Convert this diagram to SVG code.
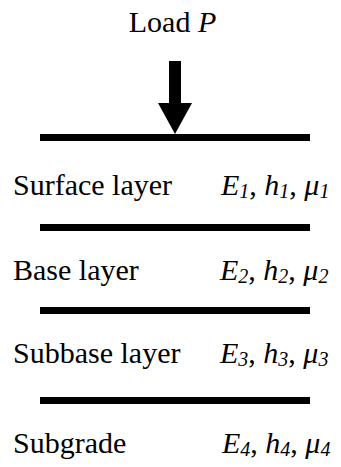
<svg xmlns="http://www.w3.org/2000/svg" width="341" height="467" viewBox="0 0 341 467">
<style>
text{font-family:'Times New Roman','Liberation Serif','DejaVu Serif',serif;font-size:30px;fill:#000}
.i{font-style:italic}
.s{font-style:italic;font-size:20px}
.layer{stroke:#000;stroke-width:7;fill:none}
</style>
<rect width="341" height="467" fill="#fff"/>
<g id="load">
<text x="172.5" y="32" text-anchor="middle">Load <tspan class="i">P</tspan></text>
<rect x="169" y="61" width="12" height="43" fill="#000"/>
<polygon points="158,103 192,103 175,134" fill="#000"/>
</g>
<g id="connectors">
<line class="layer" x1="40" y1="137.5" x2="310" y2="137.5"/>
<line class="layer" x1="40" y1="227.5" x2="310" y2="227.5"/>
<line class="layer" x1="40" y1="310.5" x2="310" y2="310.5"/>
<line class="layer" x1="40" y1="400.5" x2="310" y2="400.5"/>
</g>
<g id="surface">
<text x="13" y="195">Surface layer</text>
<text x="221" y="195"><tspan class="i">E</tspan><tspan class="s" dy="3">1</tspan><tspan dy="-3">, </tspan><tspan class="i">h</tspan><tspan class="s" dy="3">1</tspan><tspan dy="-3">, </tspan><tspan class="i">μ</tspan><tspan class="s" dy="3">1</tspan></text>
</g>
<g id="base">
<text x="13" y="280">Base layer</text>
<text x="220" y="280"><tspan class="i">E</tspan><tspan class="s" dy="3">2</tspan><tspan dy="-3">, </tspan><tspan class="i">h</tspan><tspan class="s" dy="3">2</tspan><tspan dy="-3">, </tspan><tspan class="i">μ</tspan><tspan class="s" dy="3">2</tspan></text>
</g>
<g id="subbase">
<text x="13" y="363">Subbase layer</text>
<text x="220" y="363"><tspan class="i">E</tspan><tspan class="s" dy="3">3</tspan><tspan dy="-3">, </tspan><tspan class="i">h</tspan><tspan class="s" dy="3">3</tspan><tspan dy="-3">, </tspan><tspan class="i">μ</tspan><tspan class="s" dy="3">3</tspan></text>
</g>
<g id="subgrade">
<text x="13" y="453">Subgrade</text>
<text x="222" y="453"><tspan class="i">E</tspan><tspan class="s" dy="3">4</tspan><tspan dy="-3">, </tspan><tspan class="i">h</tspan><tspan class="s" dy="3">4</tspan><tspan dy="-3">, </tspan><tspan class="i">μ</tspan><tspan class="s" dy="3">4</tspan></text>
</g>
</svg>
